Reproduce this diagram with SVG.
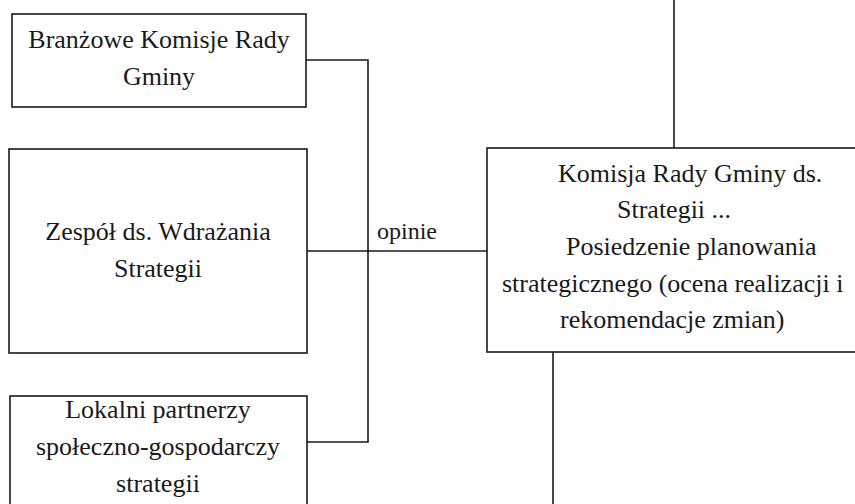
<svg xmlns="http://www.w3.org/2000/svg" width="855" height="504" viewBox="0 0 855 504">
<style>
.box{fill:#fff;stroke:#1a1a1a;stroke-width:1.6}
.ln{fill:none;stroke:#1a1a1a;stroke-width:1.6}
.c{text-anchor:middle}
</style>
<rect width="855" height="504" fill="#fff"/>
<g id="connectors">
<polyline class="ln" points="306,60 368,60 368,442 307,442"/>
<line class="ln" x1="307" y1="251" x2="487" y2="251"/>
<line class="ln" x1="674" y1="0" x2="674" y2="148"/>
<line class="ln" x1="553" y1="352" x2="553" y2="504"/>
<text x="377" y="239" font-family="Liberation Serif, serif" font-size="24" fill="#1a1a1a">opinie</text>
</g>
<g id="n1">
<rect class="box" x="12" y="14" width="294" height="93"/>
<text class="c" x="159" y="48" font-family="Liberation Serif, serif" font-size="26" fill="#1a1a1a">Bran&#380;owe Komisje Rady</text>
<text class="c" x="159" y="85" font-family="Liberation Serif, serif" font-size="26" fill="#1a1a1a">Gminy</text>
</g>
<g id="n2">
<rect class="box" x="9" y="149" width="298" height="204"/>
<text class="c" x="158" y="240" font-family="Liberation Serif, serif" font-size="26" fill="#1a1a1a">Zesp&#243;&#322; ds. Wdra&#380;ania</text>
<text class="c" x="158" y="277" font-family="Liberation Serif, serif" font-size="26" fill="#1a1a1a">Strategii</text>
</g>
<g id="n3">
<rect class="box" x="10" y="396" width="297" height="120"/>
<text class="c" x="158" y="418" font-family="Liberation Serif, serif" font-size="26" fill="#1a1a1a">Lokalni partnerzy</text>
<text class="c" x="158" y="455" font-family="Liberation Serif, serif" font-size="26" fill="#1a1a1a">spo&#322;eczno-gospodarczy</text>
<text class="c" x="158" y="492" font-family="Liberation Serif, serif" font-size="26" fill="#1a1a1a">strategii</text>
</g>
<g id="n4">
<rect class="box" x="487" y="148" width="380" height="204"/>
<text x="558" y="182" font-family="Liberation Serif, serif" font-size="26" fill="#1a1a1a">Komisja Rady Gminy ds.</text>
<text x="617" y="218" font-family="Liberation Serif, serif" font-size="26" fill="#1a1a1a">Strategii ...</text>
<text x="566" y="255" font-family="Liberation Serif, serif" font-size="26" fill="#1a1a1a">Posiedzenie planowania</text>
<text x="502" y="292" font-family="Liberation Serif, serif" font-size="26" fill="#1a1a1a">strategicznego (ocena realizacji i</text>
<text x="560" y="328" font-family="Liberation Serif, serif" font-size="26" fill="#1a1a1a">rekomendacje zmian)</text>
</g>
</svg>
